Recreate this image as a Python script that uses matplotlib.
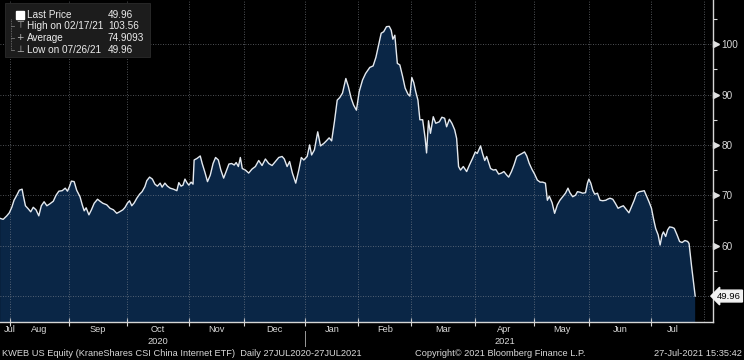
import numpy as np
import pandas as pd
import matplotlib
matplotlib.use("Agg")
import matplotlib.pyplot as plt
from matplotlib.patches import Rectangle

# ---------------- data (trading-day position, price) ----------------
day = [1.3, 2.4, 3.7, 4.6, 5.5, 6.3, 7.3, 8.2, 9.2, 9.6, 10.4, 11.4, 12.3, 13.2, 14.2, 15.2,
       16.1, 17.1, 18.1, 19.2, 20.4, 21.4, 22.4, 23.6, 24.7, 25.5, 26.2, 26.9, 27.9, 28.8,
       30.0, 30.8, 31.5, 32.2, 33.2, 34.1, 35.1, 36.3, 37.2, 38.2, 39.6, 40.8, 42.0, 43.2,
       44.2, 45.4, 46.2, 47.0, 47.8, 48.6, 49.5, 50.4, 51.4, 52.3, 53.3, 54.0, 55.0, 56.0,
       56.9, 57.8, 58.8, 59.5, 60.5, 61.4, 62.4, 63.6, 64.8, 65.5, 66.3, 67.0, 67.7, 68.4,
       69.1, 69.9, 70.6, 71.0, 72.0, 73.2, 73.9, 74.9, 75.8, 76.8, 77.8, 78.7, 79.7, 80.6,
       81.6, 82.6, 83.5, 84.5, 85.4, 86.1, 86.9, 87.6, 88.3, 89.4, 90.6, 91.8, 93.0, 94.2,
       95.4, 96.6, 97.8, 99.0, 100.2, 101.4, 102.6, 103.4, 104.4, 105.3, 106.3, 107.5, 108.6,
       109.5, 110.4, 111.6, 112.5, 113.2, 114.2, 115.4, 116.4, 117.6, 118.5, 119.5, 120.4,
       121.4, 122.4, 123.3, 124.3, 125.5, 126.4, 127.4, 128.3, 129.3, 130.3, 131.5, 132.6,
       134.1, 135.3, 136.3, 137.3, 138.2, 139.1, 140.1, 141.1, 141.8, 142.4, 143.1, 144.0,
       144.9, 145.9, 146.8, 147.8, 148.5, 149.2, 149.9, 150.6, 151.4, 152.1, 153.1, 154.0,
       154.5, 155.2, 155.9, 156.9, 157.8, 159.1, 160.0, 161.0, 161.7, 162.7, 163.6, 164.6,
       165.3, 166.0, 166.7, 167.7, 168.9, 169.9, 171.0, 172.0, 172.7, 173.9, 174.6, 175.4,
       176.1, 176.8, 177.5, 178.5, 179.4, 180.4, 181.4, 182.3, 183.3, 184.0, 185.0, 185.9,
       186.9, 187.8, 188.8, 189.7, 190.5, 191.4, 192.4, 193.3, 194.3, 195.3, 196.2, 197.2,
       197.9, 198.6, 199.6, 200.5, 201.5, 202.4, 203.4, 204.4, 205.3, 206.0, 207.0, 208.0,
       208.7, 209.6, 210.6, 211.6, 212.3, 212.8, 213.5, 214.2, 214.9, 215.9, 216.8, 217.8,
       218.9, 219.5, 220.4, 221.4, 222.3, 223.3, 224.3, 225.2, 226.2, 227.2, 228.1, 229.1,
       230.0, 231.0, 232.0, 232.7, 233.4, 234.4, 235.3, 236.0, 236.8, 237.7, 238.4, 239.1,
       239.6, 240.4, 241.1, 241.8, 242.8, 243.5, 244.5, 245.4, 246.3, 247.3, 248.3, 248.8,
       249.7, 251.0]
price = [65.4, 65.2, 65.9, 66.5, 67.6, 69.0, 70.0, 71.0, 71.2, 70.0, 67.9, 67.3, 66.7, 67.6,
         67.1, 65.9, 67.9, 68.7, 67.9, 68.3, 68.8, 70.0, 70.8, 70.9, 71.4, 70.8, 71.7, 72.8,
         72.7, 71.0, 69.7, 68.1, 66.9, 67.5, 66.1, 67.1, 68.4, 69.2, 68.8, 68.4, 68.1, 67.4,
         67.1, 66.4, 66.7, 67.1, 67.6, 68.4, 68.9, 67.9, 68.5, 69.4, 70.2, 70.7, 71.7, 72.9,
         73.6, 73.2, 72.2, 71.8, 72.4, 71.6, 72.4, 71.8, 71.4, 71.2, 70.9, 72.5, 71.8, 72.0,
         73.2, 72.5, 72.0, 72.6, 72.2, 77.0, 77.3, 77.8, 76.3, 74.5, 72.7, 74.0, 76.3, 77.5,
         77.0, 75.0, 73.4, 74.9, 76.2, 76.3, 76.0, 76.5, 75.7, 77.5, 75.3, 75.0, 74.4, 75.2,
         75.7, 76.9, 75.9, 77.2, 76.3, 75.9, 76.7, 77.5, 77.7, 77.2, 75.7, 76.7, 74.4, 72.4,
         75.0, 77.5, 77.0, 77.7, 80.0, 78.0, 79.0, 82.6, 79.8, 80.3, 80.8, 81.4, 80.8, 84.6,
         88.9, 89.4, 90.3, 93.2, 91.6, 89.3, 87.9, 86.9, 90.6, 92.9, 94.2, 95.4, 95.7, 97.4,
         99.9, 102.2, 102.5, 103.5, 103.56, 102.8, 101.0, 101.8, 96.2, 95.9, 93.6, 91.3, 90.1,
         89.7, 93.4, 92.4, 90.6, 88.9, 85.0, 85.0, 81.3, 78.4, 84.8, 82.3, 85.6, 84.3, 84.6,
         85.5, 85.3, 83.6, 85.1, 84.3, 83.0, 81.3, 75.7, 75.0, 75.7, 74.7, 76.0, 77.3, 78.6,
         78.3, 79.8, 78.3, 76.9, 77.7, 76.5, 75.3, 75.0, 75.1, 74.2, 74.4, 74.7, 74.0, 73.6,
         74.7, 76.0, 77.7, 78.0, 78.3, 78.6, 77.8, 76.3, 75.1, 74.2, 73.0, 72.6, 72.6, 72.4,
         69.0, 69.8, 68.5, 66.4, 68.1, 69.0, 69.7, 70.4, 71.4, 70.5, 69.7, 70.0, 70.7, 70.6,
         70.4, 70.5, 72.4, 73.2, 72.4, 71.0, 70.2, 70.4, 69.0, 68.9, 69.0, 69.2, 69.4, 69.2,
         68.4, 67.4, 67.7, 67.9, 67.2, 66.5, 67.7, 69.0, 70.4, 70.7, 70.8, 70.9, 70.0, 68.7,
         67.4, 65.4, 63.4, 62.1, 60.1, 62.1, 62.7, 61.8, 63.1, 63.7, 63.6, 63.4, 62.1, 60.8,
         60.6, 61.0, 60.8, 60.4, 55.9, 49.96]

holidays = ["2020-09-07", "2020-11-26", "2020-12-25", "2021-01-01", "2021-01-18",
            "2021-02-15", "2021-04-02", "2021-05-31", "2021-07-05"]
y_ticks = [60, 70, 80, 90, 100]
y_minor = [55, 65, 75, 85, 95, 105]
grid_levels = [50, 60, 70, 80, 90, 100]
legend_labels = ["Last Price", "High on 02/17/21", "Average", "Low on 07/26/21"]
legend_values = ["49.96", "103.56", "74.9093", "49.96"]
footer_left = "KWEB US Equity (KraneShares CSI China Internet ETF)  Daily 27JUL2020-27JUL2021"
footer_mid = "Copyright\u00a9 2021 Bloomberg Finance L.P."
footer_right = "27-Jul-2021 15:35:42"

# ---------------- calendar ----------------
dates = pd.bdate_range("2020-07-27", "2021-07-27", freq="C", holidays=holidays)
bounds = [i for i in range(1, len(dates)) if dates[i].month != dates[i - 1].month]
last_day = day[-1]
seg_starts = [0] + bounds
seg_ends = bounds + [last_day]
centers = [(a + b) / 2 for a, b in zip(seg_starts, seg_ends)]
month_names = [dates[s].strftime("%b") for s in seg_starts]
years = [dates[s].year for s in seg_starts]

plt.rcParams["font.family"] = ["Liberation Sans", "DejaVu Sans"]
FS = 6.7
TXT = "#d8d8d8"

W, H = 744, 360
fig = plt.figure(figsize=(W / 100, H / 100), dpi=100, facecolor="black")
ax_bottom_px = 322
ax_right_px = 713
ax = fig.add_axes([0, 1 - ax_bottom_px / H, ax_right_px / W, ax_bottom_px / H])
ax.set_facecolor("black")

xmin, xmax = 1.26, 257.4
ax.set_xlim(xmin, xmax)
ax.set_ylim(44.8, 108.8)

grid_col = "#8c9097"
for g in grid_levels:
    ax.axhline(g, color=grid_col, lw=0.6, ls=(0, (1, 2)), alpha=0.75, zorder=3)
for b in bounds + [len(dates) + 1]:
    ax.axvline(b, color=grid_col, lw=0.6, ls=(0, (1, 2)), alpha=0.75, zorder=3)

ax.fill_between(day, price, 0, color="#0a2646", lw=0, zorder=1)
ax.plot(day, price, color="#e4e9ef", lw=1.0, zorder=4)

for s in ["top", "left"]:
    ax.spines[s].set_visible(False)
for s in ["right", "bottom"]:
    ax.spines[s].set_color("#d6d6d6")
    ax.spines[s].set_linewidth(1.0)

# y axis on right
ax.yaxis.tick_right()
ax.set_yticks(y_ticks)
ax.set_yticklabels([str(t) for t in y_ticks])
ax.set_yticks(y_minor, minor=True)
ax.tick_params(axis="y", which="major", length=0, pad=6, labelsize=7.2, labelcolor=TXT)
ax.tick_params(axis="y", which="minor", length=3, width=0.8, color="#d6d6d6", direction="out")
ytr = ax.get_yaxis_transform()
ax.plot([1.004] * len(y_ticks), y_ticks, ls="none", marker=">", ms=4, color="#e0e0e0",
        transform=ytr, clip_on=False)

# last price tag
ax.text(741 / ax_right_px, price[-1], f"{price[-1]:.2f}", transform=ytr, ha="right",
        va="center", fontsize=6.8, color="black",
        bbox=dict(boxstyle="larrow,pad=0.15", fc="#f2f2f2", ec="#f2f2f2"), clip_on=False)

# x axis
ax.set_xticks(bounds)
ax.set_xticklabels([""] * len(bounds))
ax.tick_params(axis="x", which="major", length=6, width=0.8, color="#d6d6d6", direction="inout")
lab_pos = list(centers)
lab_pos[0] = xmin + 3.5
ax.set_xticks(lab_pos, minor=True)
ax.set_xticklabels(month_names, minor=True)
ax.tick_params(axis="x", which="minor", length=0, pad=2.0, labelsize=FS, labelcolor=TXT)

xtr = ax.get_xaxis_transform()
for yr in sorted(set(years)):
    idx = [i for i, y in enumerate(years) if y == yr]
    mid = idx[len(idx) // 2]
    ax.text(centers[mid], -(341 - ax_bottom_px) / ax_bottom_px, str(yr), transform=xtr,
            ha="center", va="center", fontsize=FS, color=TXT)
year_break = [b for b in bounds if dates[b].month == 1][0]
ax.plot([year_break, year_break],
        [-(331 - ax_bottom_px) / ax_bottom_px, -(346 - ax_bottom_px) / ax_bottom_px],
        transform=xtr, color="#9a9a9a", lw=0.7, clip_on=False)

# footer
fy = 1 - 354 / H
fig.text(2 / W, fy, footer_left, ha="left", va="center", fontsize=FS, color=TXT)
fig.text(415 / W, fy, footer_mid, ha="left", va="center", fontsize=FS, color=TXT)
fig.text(742 / W, fy, footer_right, ha="right", va="center", fontsize=FS, color=TXT)

# legend box
fig.patches.append(Rectangle((5 / W, 1 - 57 / H), 145 / W, 54 / H, transform=fig.transFigure,
                             fc="#1c1c1c", ec="#2b2b2b", lw=0.6, zorder=10))
row_y = [14.7, 26.0, 37.8, 49.8]
fig.patches.append(Rectangle((16 / W, 1 - 18.5 / H), 7.5 / W, 7.5 / H, transform=fig.transFigure,
                             fc="white", ec="white", zorder=11))
fig.lines.append(plt.Line2D([10.5 / W, 10.5 / W], [1 - 19 / H, 1 - 50 / H],
                            transform=fig.transFigure, color="#777777", lw=0.6,
                            ls=(0, (1, 1)), zorder=11))
for ry in row_y[1:]:
    fig.lines.append(plt.Line2D([10.5 / W, 14 / W], [1 - ry / H, 1 - ry / H],
                                transform=fig.transFigure, color="#777777", lw=0.6, zorder=11))
icons = ["\u22a4", "+", "\u22a5"]
for ry, ic in zip(row_y[1:], icons):
    fig.text(20 / W, 1 - ry / H, ic, ha="center", va="center", fontsize=6.5, color="#bdbdbd",
             family=["DejaVu Sans"], zorder=12)
for ry, lab, val in zip(row_y, legend_labels, legend_values):
    fig.text(27 / W, 1 - ry / H, lab, ha="left", va="center", fontsize=7.2, color="#ececec",
             zorder=12)
    fig.text(108 / W, 1 - ry / H, val, ha="left", va="center", fontsize=7.2, color="#ececec",
             zorder=12)

fig.savefig("out.png", dpi=100, facecolor="black")
